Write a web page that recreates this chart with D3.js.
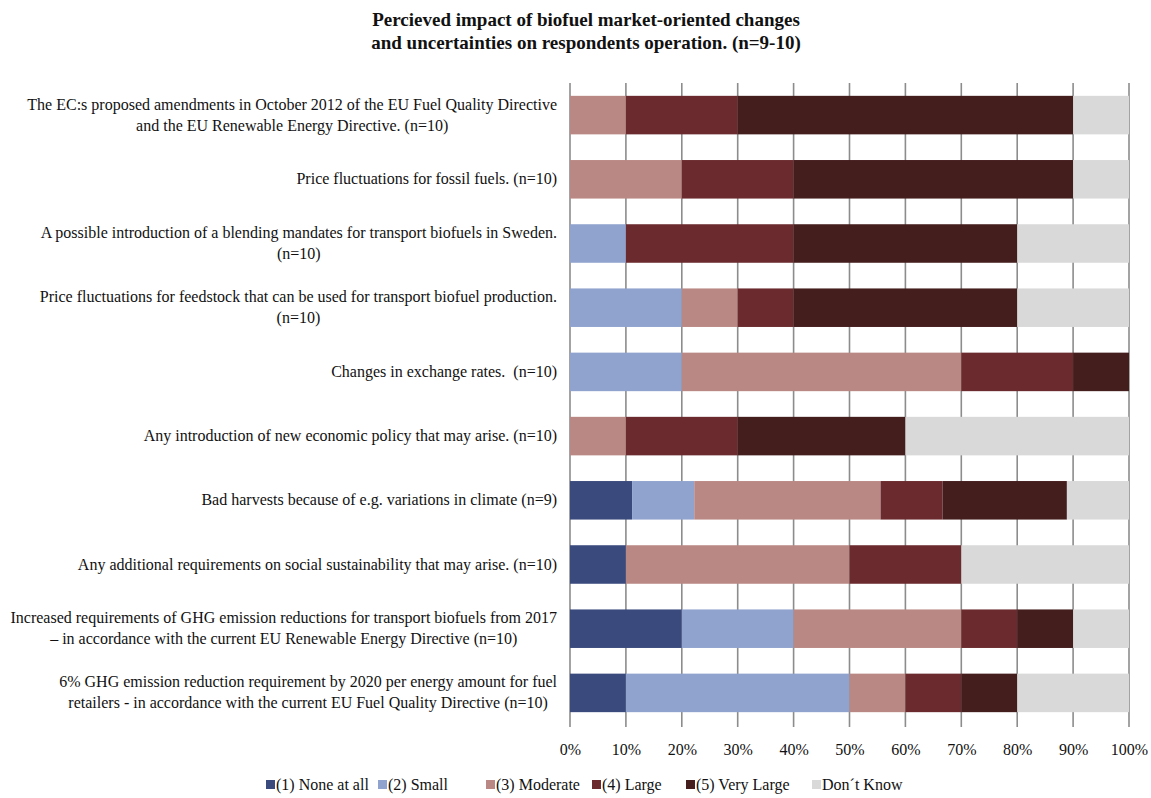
<!DOCTYPE html>
<html>
<head>
<meta charset="utf-8">
<script src="https://cdn.jsdelivr.net/npm/d3@7"></script>
<style>
  body { margin: 0; background: #fff; }
  svg text { font-family: "Liberation Serif", "Times New Roman", serif; fill: #111; white-space: pre; }
</style>
</head>
<body>
<div id="chart"></div>
<script>
// category labels (lines), top to bottom
const labels = [
  ["The EC:s proposed amendments in October 2012 of the EU Fuel Quality Directive", "and the EU Renewable Energy Directive. (n=10)"],
  ["Price fluctuations for fossil fuels. (n=10)"],
  ["A possible introduction of a blending mandates for transport biofuels in Sweden.", "(n=10)"],
  ["Price fluctuations for feedstock that can be used for transport biofuel production.", "(n=10)"],
  ["Changes in exchange rates.  (n=10)"],
  ["Any introduction of new economic policy that may arise. (n=10)"],
  ["Bad harvests because of e.g. variations in climate (n=9)"],
  ["Any additional requirements on social sustainability that may arise. (n=10)"],
  ["Increased requirements of GHG emission reductions for transport biofuels from 2017", "– in accordance with the current EU Renewable Energy Directive (n=10)"],
  ["6% GHG emission reduction requirement by 2020 per energy amount for fuel", "retailers - in accordance with the current EU Fuel Quality Directive (n=10)"]
];

const seriesNames = ["(1) None at all", "(2) Small", "(3) Moderate", "(4) Large", "(5) Very Large", "Don´t Know"];
const seriesColors = ["#3a4a7d", "#8fa3ce", "#b98884", "#6b2a2d", "#441d1d", "#d9d9d9"];

// respondent counts per answer, same order as seriesNames
const noneAtAll  = [0, 0, 0, 0, 0, 0, 1, 1, 2, 1];
const small      = [0, 0, 1, 2, 2, 0, 1, 0, 2, 4];
const moderate   = [1, 2, 0, 1, 5, 1, 3, 4, 3, 1];
const large      = [2, 2, 3, 1, 2, 2, 1, 2, 1, 1];
const veryLarge  = [6, 5, 4, 4, 1, 3, 2, 0, 1, 1];
const dontKnow   = [1, 1, 2, 2, 0, 4, 1, 3, 1, 2];

const tickValues = [0, 0.1, 0.2, 0.3, 0.4, 0.5, 0.6, 0.7, 0.8, 0.9, 1];

const W = 1151, H = 798;
const margin = { top: 83, left: 570, right: 22, bottom: 73 };
const plotW = W - margin.left - margin.right;
const plotH = H - margin.top - margin.bottom;

const svg = d3.select("#chart").append("svg")
  .attr("width", W).attr("height", H);

// title
svg.append("text")
  .attr("x", 586).attr("y", 26)
  .attr("text-anchor", "middle")
  .style("font-weight", "bold").style("font-size", "19px")
  .selectAll("tspan")
  .data(["Percieved impact of biofuel market-oriented changes", "and uncertainties on respondents operation. (n=9-10)"])
  .enter().append("tspan")
  .attr("x", 586).attr("dy", (d, i) => i === 0 ? 0 : 23)
  .text(d => d);

const g = svg.append("g").attr("transform", `translate(${margin.left},${margin.top})`);

const table = labels.map((l, i) => {
  const counts = [noneAtAll[i], small[i], moderate[i], large[i], veryLarge[i], dontKnow[i]];
  const n = d3.sum(counts);
  const row = { idx: i };
  counts.forEach((c, k) => row[seriesNames[k]] = c / n);
  return row;
});

const stack = d3.stack().keys(seriesNames)(table);

const x = d3.scaleLinear().domain([0, 1]).range([0, plotW]);
const y = d3.scaleBand().domain(d3.range(labels.length)).range([0, plotH]).paddingInner(0.4).paddingOuter(0.2);

// gridlines
g.selectAll(".grid")
  .data(tickValues)
  .enter().append("line")
  .attr("x1", d => x(d)).attr("x2", d => x(d))
  .attr("y1", 0).attr("y2", plotH + 2)
  .attr("stroke", "#8c8c8c").attr("stroke-width", 1.6);

// bars
g.selectAll(".series")
  .data(stack)
  .enter().append("g")
  .attr("fill", (d, i) => seriesColors[i])
  .selectAll("rect")
  .data(d => d)
  .enter().append("rect")
  .attr("x", d => x(d[0]))
  .attr("width", d => x(d[1]) - x(d[0]))
  .attr("y", (d, i) => y(i))
  .attr("height", y.bandwidth());

// x axis labels
const xAxis = d3.axisBottom(x).tickValues(tickValues).tickFormat(d3.format(".0%")).tickSize(0).tickPadding(19);
const ax = g.append("g").attr("transform", `translate(0,${plotH})`).call(xAxis);
ax.select(".domain").remove();
ax.selectAll("text").style("font-family", "'Liberation Serif', serif").style("font-size", "16px").attr("fill", "#111");

// category labels, lines centered on each other, block right-aligned
const labelRight = -13;
labels.forEach((lines, i) => {
  const t = g.append("text").style("font-size", "16px").attr("text-anchor", "middle");
  const spans = lines.map(s => t.append("tspan").text(s));
  const maxW = d3.max(spans, s => s.node().getComputedTextLength());
  const cx = labelRight - maxW / 2;
  const lh = 21;
  const yc = y(i) + y.bandwidth() / 2 - (lines.length - 1) * lh / 2 + 5;
  spans.forEach((s, k) => s.attr("x", cx).attr("y", yc + k * lh));
});

// legend
const legendX = [266, 378, 486, 592, 686, 812];
const lg = svg.append("g").attr("transform", "translate(0,790)");
seriesNames.forEach((name, i) => {
  lg.append("rect").attr("x", legendX[i]).attr("y", -10).attr("width", 9).attr("height", 9).attr("fill", seriesColors[i]);
  lg.append("text").attr("x", legendX[i] + 10).attr("y", 0).style("font-size", "16px").text(name);
});
</script>
</body>
</html>
